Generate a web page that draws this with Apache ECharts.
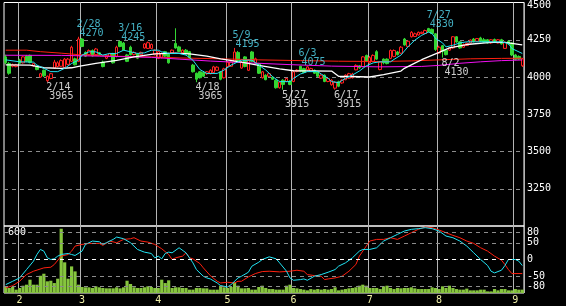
<!DOCTYPE html>
<html><head><meta charset="utf-8">
<script src="https://cdn.jsdelivr.net/npm/echarts@6/dist/echarts.min.js"></script>
<style>html,body{margin:0;padding:0;background:#000;}#c{width:566px;height:306px;}</style>
</head><body><div id="c"></div>
<script>
// ---- data ----
const dates = ['1/26','1/27','1/28','1/31',
'2/1','2/2','2/3','2/4','2/7','2/8','2/9','2/10','2/14','2/15','2/16','2/17','2/18','2/21','2/22','2/24','2/25','2/28',
'3/1','3/2','3/3','3/4','3/7','3/8','3/9','3/10','3/11','3/14','3/15','3/16','3/17','3/18','3/22','3/23','3/24','3/25','3/28','3/29','3/30','3/31',
'4/1','4/4','4/5','4/6','4/7','4/8','4/11','4/12','4/13','4/14','4/15','4/18','4/19','4/20','4/21','4/22','4/25','4/26','4/27','4/28',
'5/2','5/6','5/9','5/10','5/11','5/12','5/13','5/16','5/17','5/18','5/19','5/20','5/23','5/24','5/25','5/26','5/27','5/30','5/31',
'6/1','6/2','6/3','6/6','6/7','6/8','6/9','6/10','6/13','6/14','6/15','6/16','6/17','6/20','6/21','6/22','6/23','6/24','6/27','6/28','6/29','6/30',
'7/1','7/4','7/5','7/6','7/7','7/8','7/11','7/12','7/13','7/14','7/15','7/19','7/20','7/21','7/22','7/25','7/26','7/27','7/28','7/29',
'8/1','8/2','8/3','8/4','8/5','8/8','8/9','8/10','8/12','8/15','8/16','8/17','8/18','8/19','8/22','8/23','8/24','8/25','8/26','8/29','8/30','8/31',
'9/1','9/2','9/5'];

const open = [4135,4090,4072,4070,4115,4095,4140,4145,4075,4068,4000,4045,3975,3990,4060,4070,4072,4062,4085,4105,4122,4105,
4255,4165,4150,4178,4150,4162,4100,4126,4138,4156,4138,4238,4228,4148,4200,4150,4156,4150,4195,4192,4192,4150,
4125,4130,4170,4158,4162,4225,4202,4162,4180,4170,4080,4025,4035,4030,4022,4022,4030,4045,4035,3995,
4070,4072,4105,4165,4060,4135,4045,4168,4092,4090,3995,4012,4005,3998,3978,3928,3978,3970,3972,
3970,4038,4072,4056,4048,4038,4045,4035,3992,4012,3970,3948,3925,3968,3960,3982,3992,3995,4048,4075,4070,4145,
4095,4105,4170,4050,4120,4120,4125,4138,4168,4160,4255,4205,4270,4272,4282,4292,4292,4325,4320,4290,
4160,4210,4180,4180,4195,4270,4236,4200,4212,4228,4255,4240,4262,4250,4250,4228,4252,4228,4250,4192,4240,4228,
4148,4138,4075];
const close = [4095,4025,4082,4082,4092,4135,4105,4098,4090,4050,4022,4008,4005,4022,4100,4095,4110,4120,4120,4200,4082,4255,
4205,4140,4178,4142,4188,4152,4070,4145,4156,4095,4200,4205,4182,4105,4150,4165,4126,4165,4222,4230,4218,4180,
4170,4158,4140,4095,4180,4195,4172,4180,4155,4128,4035,3985,3995,4005,4035,4045,4068,4066,3985,4055,
4100,4100,4168,4105,4100,4070,4112,4105,4122,4025,4035,3982,4022,3985,3928,3965,3950,3990,3950,
4035,4046,4038,4030,4068,4056,4025,4005,4012,3970,3990,3978,3965,3938,3978,4012,4022,4020,4078,4062,4135,4105,
4130,4145,4120,4100,4095,4090,4178,4178,4150,4200,4215,4240,4300,4290,4300,4300,4312,4305,4292,4185,
4200,4172,4150,4195,4270,4235,4195,4218,4226,4248,4238,4258,4240,4235,4228,4250,4238,4250,4222,4232,4222,4148,
4118,4120,4122];
const low = [4085,4015,4065,4065,4088,4090,4100,4092,4070,4045,3995,4000,3965,3985,4055,4065,4068,4058,4080,4100,4078,4100,
4200,4135,4145,4138,4145,4148,4065,4120,4134,4090,4132,4200,4178,4100,4145,4145,4120,4145,4190,4188,4188,4145,
4120,4125,4135,4090,4158,4190,4168,4158,4150,4125,4030,3965,3990,4000,4015,4018,4025,4040,3978,3990,
4065,4068,4100,4100,4055,4065,4040,4100,4088,4020,3990,3978,4000,3980,3922,3922,3915,3965,3945,
3965,4032,4032,4025,4045,4035,4020,4000,3988,3965,3965,3942,3915,3932,3955,3978,3988,3990,4045,4055,4065,4100,
4090,4100,4115,4045,4085,4085,4120,4132,4145,4155,4210,4200,4265,4268,4278,4288,4288,4300,4288,4175,
4155,4130,4145,4175,4190,4230,4190,4195,4208,4225,4232,4235,4235,4230,4225,4222,4232,4225,4218,4188,4215,4140,
4112,4115,4068];
const high = [4150,4100,4090,4088,4122,4140,4148,4150,4095,4075,4028,4050,4010,4028,4115,4105,4118,4128,4128,4210,4130,4270,
4262,4172,4185,4185,4195,4168,4110,4150,4162,4162,4210,4245,4235,4155,4210,4172,4162,4170,4228,4238,4225,4185,
4175,4165,4175,4163,4185,4327,4210,4185,4188,4175,4088,4030,4040,4040,4040,4052,4075,4072,4040,4062,
4108,4105,4195,4175,4108,4140,4120,4175,4130,4095,4040,4018,4030,4005,3985,3975,3985,3995,3978,
4042,4052,4075,4062,4072,4062,4050,4040,4018,4018,3995,3985,3972,3975,3985,4018,4028,4028,4085,4080,4140,4150,
4140,4152,4180,4105,4125,4125,4185,4185,4175,4208,4262,4245,4308,4298,4305,4305,4318,4330,4325,4295,
4210,4215,4185,4200,4275,4275,4240,4225,4232,4252,4262,4262,4270,4262,4255,4255,4258,4255,4256,4238,4245,4232,
4155,4145,4128];

const volume = [59,49,59,33,49,72,82,131,82,82,170,190,115,121,98,141,633,302,141,262,213,82,
59,56,56,49,66,56,49,46,46,46,56,46,56,121,89,56,49,49,56,66,59,49,
49,131,98,125,49,56,56,49,49,33,33,49,49,46,46,33,33,33,72,56,
49,59,105,72,46,46,49,33,33,59,72,49,39,39,33,33,33,72,82,
49,46,39,33,26,39,33,39,33,39,33,39,56,26,33,39,46,49,56,72,82,72,
49,49,49,39,66,72,49,39,49,46,49,49,56,46,39,39,39,39,56,49,
39,66,49,72,49,39,33,33,43,26,26,26,33,33,16,16,39,26,39,39,26,26,
39,33,33];

// moving averages: [day index, price]
const maCyan = [[0,4115],[4,4102],[8,4100],[9,4080],[11,4058],[13,4036],[15,4036],[17,4058],[19,4091],[21,4113],[22,4147],[24,4169],[26,4169],[28,4147],[30,4158],[32,4158],[34,4180],[36,4169],[38,4158],[40,4162],[42,4180],[44,4180],[45,4169],[47,4158],[50,4158],[52,4147],[54,4113],[56,4050],[58,4024],[61,4024],[63,4047],[65,4080],[67,4102],[68,4113],[71,4113],[73,4080],[75,4047],[77,4002],[79,3969],[82,3969],[83,3991],[85,4020],[87,4036],[90,4036],[91,4020],[93,3991],[94,3969],[96,3962],[98,3991],[100,4013],[102,4040],[104,4075],[106,4095],[108,4102],[111,4102],[112,4118],[114,4147],[116,4202],[118,4247],[120,4280],[122,4302],[123,4291],[124,4258],[126,4229],[127,4202],[129,4213],[131,4229],[133,4236],[143,4236],[145,4225],[146,4191],[149,4158]];
const maWhite = [[0,4082],[7,4080],[11,4062],[16,4058],[19,4062],[21,4072],[26,4092],[32,4112],[37,4135],[43,4155],[49,4160],[53,4155],[58,4140],[62,4122],[68,4100],[73,4078],[79,4055],[83,4042],[94,4040],[96,4005],[105,4000],[109,4016],[114,4040],[115,4058],[118,4093],[120,4116],[125,4165],[128,4195],[133,4218],[140,4232],[144,4232],[147,4222],[149,4215]];
const maRed = [[0,4180],[6,4180],[10,4170],[16,4160],[21,4150],[30,4140],[42,4135],[50,4128],[62,4122],[73,4115],[85,4110],[96,4106],[108,4104],[117,4108],[125,4115],[134,4122],[143,4125],[149,4126]];
const maMagenta = [[0,4146],[16,4145],[27,4140],[42,4132],[50,4120],[59,4107],[70,4095],[82,4083],[94,4073],[108,4068],[120,4071],[125,4078],[131,4092],[137,4102],[143,4110],[149,4114]];

// oscillators (-100..100): [day index, value]
const oscCyan = [[0,-75],[2,-65],[4,-55],[6,-30],[8,-5],[9,15],[10,30],[11,25],[12,5],[13,0],[14,2],[15,10],[16,15],[18,18],[19,15],[20,12],[22,25],[23,45],[25,55],[27,53],[28,45],[29,50],[31,60],[32,67],[34,62],[36,50],[38,30],[40,22],[42,18],[43,5],[44,10],[45,2],[46,18],[47,22],[48,20],[50,35],[52,20],[54,-10],[55,-30],[57,-50],[58,-55],[59,-58],[61,-70],[62,-78],[64,-82],[65,-75],[67,-55],[68,-50],[70,-38],[71,-20],[73,-8],[74,0],[76,8],[78,2],[79,-10],[81,-35],[82,-55],[83,-62],[85,-60],[86,-58],[87,-62],[89,-50],[91,-45],[93,-38],[95,-30],[96,-20],[98,-10],[100,5],[102,25],[103,30],[105,30],[107,35],[109,55],[111,65],[113,75],[115,85],[117,90],[119,92],[121,95],[123,92],[125,85],[127,70],[129,65],[131,55],[133,40],[135,20],[137,0],[139,-18],[140,-35],[141,-40],[143,-32],[144,-18],[145,0],[147,0],[148,-5],[149,-18]];
const oscRed = [[0,-85],[2,-78],[4,-65],[6,-45],[8,-35],[11,-25],[13,-23],[14,-15],[16,10],[18,15],[19,25],[20,40],[22,45],[24,48],[27,48],[28,42],[30,55],[32,50],[34,60],[36,62],[37,65],[39,55],[41,52],[43,45],[45,32],[47,15],[48,0],[49,5],[51,10],[52,20],[53,5],[54,2],[56,-12],[57,-25],[59,-48],[61,-65],[62,-70],[64,-68],[66,-70],[67,-65],[68,-65],[70,-52],[72,-42],[74,-36],[76,-35],[79,-37],[82,-35],[84,-32],[86,-35],[87,-45],[89,-48],[91,-50],[92,-60],[93,-58],[95,-55],[97,-50],[99,-35],[101,-15],[102,10],[104,40],[105,55],[107,60],[109,60],[111,65],[113,60],[115,70],[117,80],[119,90],[121,97],[123,95],[125,88],[127,80],[129,72],[131,65],[133,55],[135,48],[137,35],[139,25],[141,10],[143,-2],[144,-15],[145,-30],[146,-42],[149,-42]];

const highMarks = [['2/28',4270],['3/16',4245],['5/9',4195],['6/3',4075],['7/27',4330]];
const lowMarks = [['2/14',3965],['4/18',3965],['5/27',3915],['6/17',3915],['8/2',4130]];
const oscTicks = [80,50,0,-50,-80];
const volTick = 600;

// ---- chart ----
const FONT = 'DejaVu Sans Mono';
const mon = d => d.split('/')[0];
const isMonthStart = i => i > 0 && mon(dates[i]) !== mon(dates[i-1]);
const pts = arr => arr.map(([i, v]) => [dates[i], v]);
const monthLine = {show: true, interval: (i) => isMonthStart(i), lineStyle: {color: '#b4b4b4', width: 1}};
const dash = [4, 4];

const chart = echarts.init(document.getElementById('c'), null, {renderer: 'canvas'});
chart.setOption({
  backgroundColor: '#000',
  animation: false,
  grid: [
    {left: 4, right: 42, top: 2, height: 224, show: true, borderColor: '#fff', borderWidth: 1},
    {left: 4, right: 42, top: 226, height: 67, show: true, borderColor: '#fff', borderWidth: 1}
  ],
  xAxis: [
    {type: 'category', gridIndex: 0, data: dates, axisLine: {show: false}, axisTick: {show: false},
     axisLabel: {show: false}, splitLine: monthLine},
    {type: 'category', gridIndex: 1, data: dates, axisLine: {show: false}, axisTick: {show: false},
     axisLabel: {show: true, interval: (i) => isMonthStart(i), formatter: v => mon(v),
                 color: '#f0f0a8', fontFamily: FONT, fontSize: 10, margin: 2},
     splitLine: monthLine}
  ],
  yAxis: [
    {type: 'value', gridIndex: 0, position: 'right', min: 3000, max: 4500, interval: 250,
     axisLine: {show: false}, axisTick: {show: false},
     axisLabel: {color: '#fff', fontFamily: FONT, fontSize: 10, margin: 3,
       formatter: v => v === 3000 ? '' : (v === 4500 ? '{t|4500}' : String(v)),
       rich: {t: {color: '#fff', fontFamily: FONT, fontSize: 10, padding: [5, 0, 0, 0]}}},
     splitLine: {show: true, showMinLine: false, showMaxLine: false, lineStyle: {color: '#8c8c8c', type: dash, width: 1}}},
    {type: 'value', gridIndex: 1, position: 'right', min: -100, max: 100, interval: 10,
     axisLine: {show: false}, axisTick: {show: false}, splitLine: {show: false},
     axisLabel: {color: '#fff', fontFamily: FONT, fontSize: 10, margin: 3,
       formatter: v => oscTicks.includes(v) ? String(v) : ''}},
    {type: 'value', gridIndex: 1, position: 'left', min: 0, max: 660, interval: 30,
     axisLine: {show: false}, axisTick: {show: false}, splitLine: {show: false},
     axisLabel: {inside: true, color: '#fff', fontFamily: FONT, fontSize: 10, margin: 4,
       formatter: v => v === volTick ? String(v) : ''}}
  ],
  series: [
    {type: 'bar', xAxisIndex: 1, yAxisIndex: 2, data: volume, barCategoryGap: '8%',
     itemStyle: {color: '#86c53e'}, z: 1, silent: true},
    {type: 'line', xAxisIndex: 1, yAxisIndex: 1, data: pts(oscRed), showSymbol: false,
     lineStyle: {color: '#ff2010', width: 1}, z: 3,
     markLine: {silent: true, symbol: ['none', 'none'], label: {show: false},
       data: oscTicks.map(v => ({yAxis: v, lineStyle: {color: v === 0 ? '#ffffff' : '#8c8c8c', type: dash, width: 1}}))}},
    {type: 'line', xAxisIndex: 1, yAxisIndex: 1, data: pts(oscCyan), showSymbol: false,
     lineStyle: {color: '#22e4f4', width: 1}, z: 4},
    {type: 'candlestick', xAxisIndex: 0, yAxisIndex: 0, barWidth: 3,
     data: dates.map((d, i) => [open[i], close[i], low[i], high[i]]),
     itemStyle: {color: '#000', color0: '#33d633', borderColor: '#ff2020', borderColor0: '#33d633', borderWidth: 1}, z: 2},
    {type: 'line', xAxisIndex: 0, yAxisIndex: 0, data: pts(maRed), showSymbol: false, lineStyle: {color: '#ff2010', width: 1}, z: 3},
    {type: 'line', xAxisIndex: 0, yAxisIndex: 0, data: pts(maMagenta), showSymbol: false, lineStyle: {color: '#f010f0', width: 1}, z: 3},
    {type: 'line', xAxisIndex: 0, yAxisIndex: 0, data: pts(maWhite), showSymbol: false, lineStyle: {color: '#ffffff', width: 1.3}, z: 4},
    {type: 'line', xAxisIndex: 0, yAxisIndex: 0, data: pts(maCyan), showSymbol: false, lineStyle: {color: '#22e4f4', width: 1}, z: 5},
    {type: 'scatter', xAxisIndex: 0, yAxisIndex: 0, symbolSize: 0, z: 6, silent: true,
     data: highMarks.map(([d, v]) => ({value: [d, v]})),
     label: {show: true, position: [-2, 1], align: 'left', verticalAlign: 'bottom',
       formatter: p => '{a|' + p.value[0] + '}\n{b|' + p.value[1] + '}',
       rich: {a: {color: '#55ddf5', fontFamily: FONT, fontSize: 10, lineHeight: 9},
              b: {color: '#55ddf5', fontFamily: FONT, fontSize: 10, lineHeight: 9, padding: [0, 0, 0, 3]}}}},
    {type: 'scatter', xAxisIndex: 0, yAxisIndex: 0, symbolSize: 0, z: 6, silent: true,
     data: lowMarks.map(([d, v]) => ({value: [d, v]})),
     label: {show: true, position: [-1, 1], align: 'left', verticalAlign: 'top',
       formatter: p => '{a|' + p.value[0] + '}\n{b|' + p.value[1] + '}',
       rich: {a: {color: '#ffffff', fontFamily: FONT, fontSize: 10, lineHeight: 9},
              b: {color: '#ffffff', fontFamily: FONT, fontSize: 10, lineHeight: 9, padding: [0, 0, 0, 3]}}}}
  ]
});
</script>
</body></html>
